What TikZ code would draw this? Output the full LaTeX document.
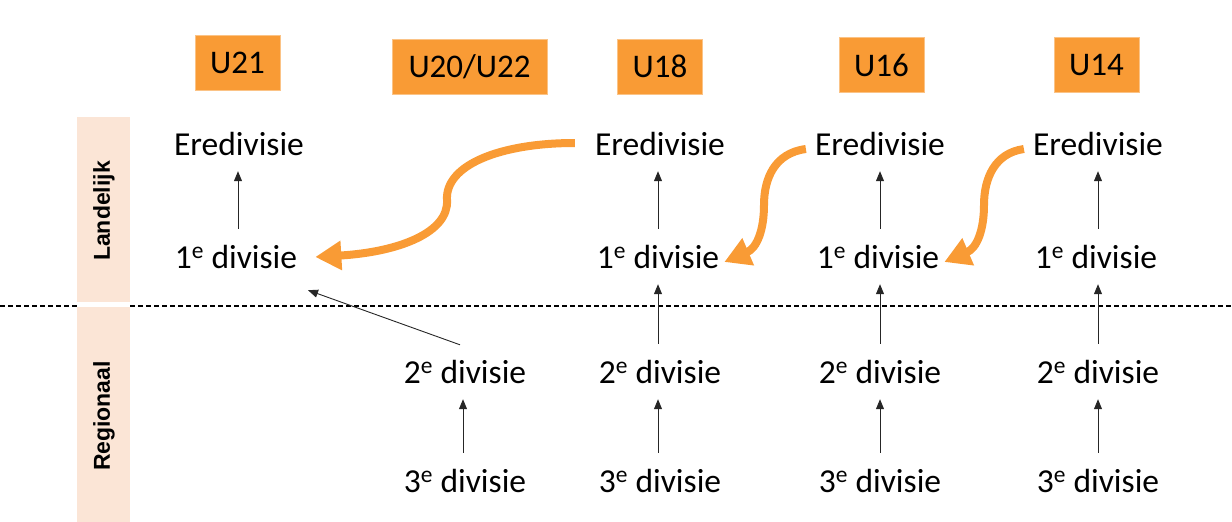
\documentclass[tikz,border=0pt]{standalone}
\usepackage{fontspec}
\setmainfont{Carlito}
\newfontfamily\sidefont{Liberation Sans}
\usetikzlibrary{arrows.meta,calc}
\definecolor{orng}{HTML}{F99B35}
\definecolor{band}{HTML}{FBE5D6}
\begin{document}
\begin{tikzpicture}[x=1pt,y=-1pt,
  lbl/.style={anchor=base,inner sep=0pt,text height=24pt,text depth=0pt,font=\fontsize{33.5}{38}\selectfont},
  agebox/.style={fill=orng,draw=orng!60,line width=0.6pt,inner sep=0pt,minimum height=55pt,font=\fontsize{33}{38}\selectfont},
  side/.style={rotate=90,font=\sidefont\bfseries\fontsize{23}{26}\selectfont},
  up/.style={draw=black!85,line width=0.9pt,-{Triangle[length=10pt,width=8pt]},shorten <=15pt,shorten >=16pt},
  swoop/.style={draw=orng,line width=8pt,-{Triangle[length=26pt,width=28pt]}}
]
\useasboundingbox (0,0) rectangle (1232,522);
% bands
\fill[band] (77,117) rectangle (130,302);
\fill[band] (77,307) rectangle (130,522);
\node[side] (land) at (104,211) {Landelijk};
\node[side] (reg) at (104,416) {Regionaal};
% dashed line
\draw[line width=1.1pt,dash pattern=on 5pt off 3pt] (0,306) -- (77,306);
\draw[line width=1.1pt,dash pattern=on 5pt off 3pt] (130,306) -- (1232,306);
% age boxes
\node[agebox,minimum width=85pt] (u21) at (237.5,63) {U21};
\node[agebox,minimum width=155pt] (u20) at (469.5,66.5) {U20/U22};
\node[agebox,minimum width=85pt] (u18) at (660,66.5) {U18};
\node[agebox,minimum width=85pt] (u16) at (881.5,65) {U16};
\node[agebox,minimum width=85pt] (u14) at (1096.5,65) {U14};
% labels
\node[lbl] (ere21) at (239,155) {Eredivisie};
\node[lbl] (one21) at (236,268) {1\textsuperscript{e} divisie};
\node[lbl] (two20) at (465,383) {2\textsuperscript{e} divisie};
\node[lbl] (thr20) at (465,492) {3\textsuperscript{e} divisie};
\node[lbl] (ere18) at (660,155) {Eredivisie};
\node[lbl] (one18) at (658,268) {1\textsuperscript{e} divisie};
\node[lbl] (two18) at (660,383) {2\textsuperscript{e} divisie};
\node[lbl] (thr18) at (660,492) {3\textsuperscript{e} divisie};
\node[lbl] (ere16) at (880,155) {Eredivisie};
\node[lbl] (one16) at (878,268) {1\textsuperscript{e} divisie};
\node[lbl] (two16) at (880,383) {2\textsuperscript{e} divisie};
\node[lbl] (thr16) at (880,492) {3\textsuperscript{e} divisie};
\node[lbl] (ere14) at (1098,155) {Eredivisie};
\node[lbl] (one14) at (1096,268) {1\textsuperscript{e} divisie};
\node[lbl] (two14) at (1098,383) {2\textsuperscript{e} divisie};
\node[lbl] (thr14) at (1098,492) {3\textsuperscript{e} divisie};
% black arrows
\draw[up] (one21.north -| 238,0) -- (ere21.south -| 238,0);
\draw[up] (one18.north -| 658,0) -- (ere18.south -| 658,0);
\draw[up] (two18.north -| 658,0) -- (one18.south -| 658,0);
\draw[up] (thr18.north -| 658,0) -- (two18.south -| 658,0);
\draw[up] (one16.north -| 880,0) -- (ere16.south -| 880,0);
\draw[up] (two16.north -| 880,0) -- (one16.south -| 880,0);
\draw[up] (thr16.north -| 880,0) -- (two16.south -| 880,0);
\draw[up] (one14.north -| 1098,0) -- (ere14.south -| 1098,0);
\draw[up] (two14.north -| 1098,0) -- (one14.south -| 1098,0);
\draw[up] (thr14.north -| 1098,0) -- (two14.south -| 1098,0);
\draw[up] (thr20.north -| 463,0) -- (two20.south -| 463,0);
\draw[draw=black!85,line width=0.9pt,-{Triangle[length=10pt,width=8pt]}]
  ($(two20.north)+(-5,-14)$) -- ($(one21.south)+(72,22)$);
% orange swoops
\coordinate (s1) at ($(ere18.west)+(-20,0)$);
\coordinate (t1) at ($(one21.east)+(18,1)$);
\draw[swoop] (s1) .. controls (500,143) and (445,165) .. (447,200)
  .. controls (449,232) and (400,252) .. (t1);
\coordinate (s2) at ($(ere16.west)+(-9,6)$);
\coordinate (t2) at ($(one18.east)+(5,6)$);
\draw[swoop] (s2) .. controls (775,153) and (764,178) .. (764,205)
  .. controls (764,230) and (757,248) .. (t2);
\coordinate (s3) at ($(ere14.west)+(-9,6)$);
\coordinate (t3) at ($(one16.east)+(5,6)$);
\draw[swoop] (s3) .. controls (995,153) and (984,178) .. (984,205)
  .. controls (984,230) and (977,248) .. (t3);
\end{tikzpicture}
\end{document}
